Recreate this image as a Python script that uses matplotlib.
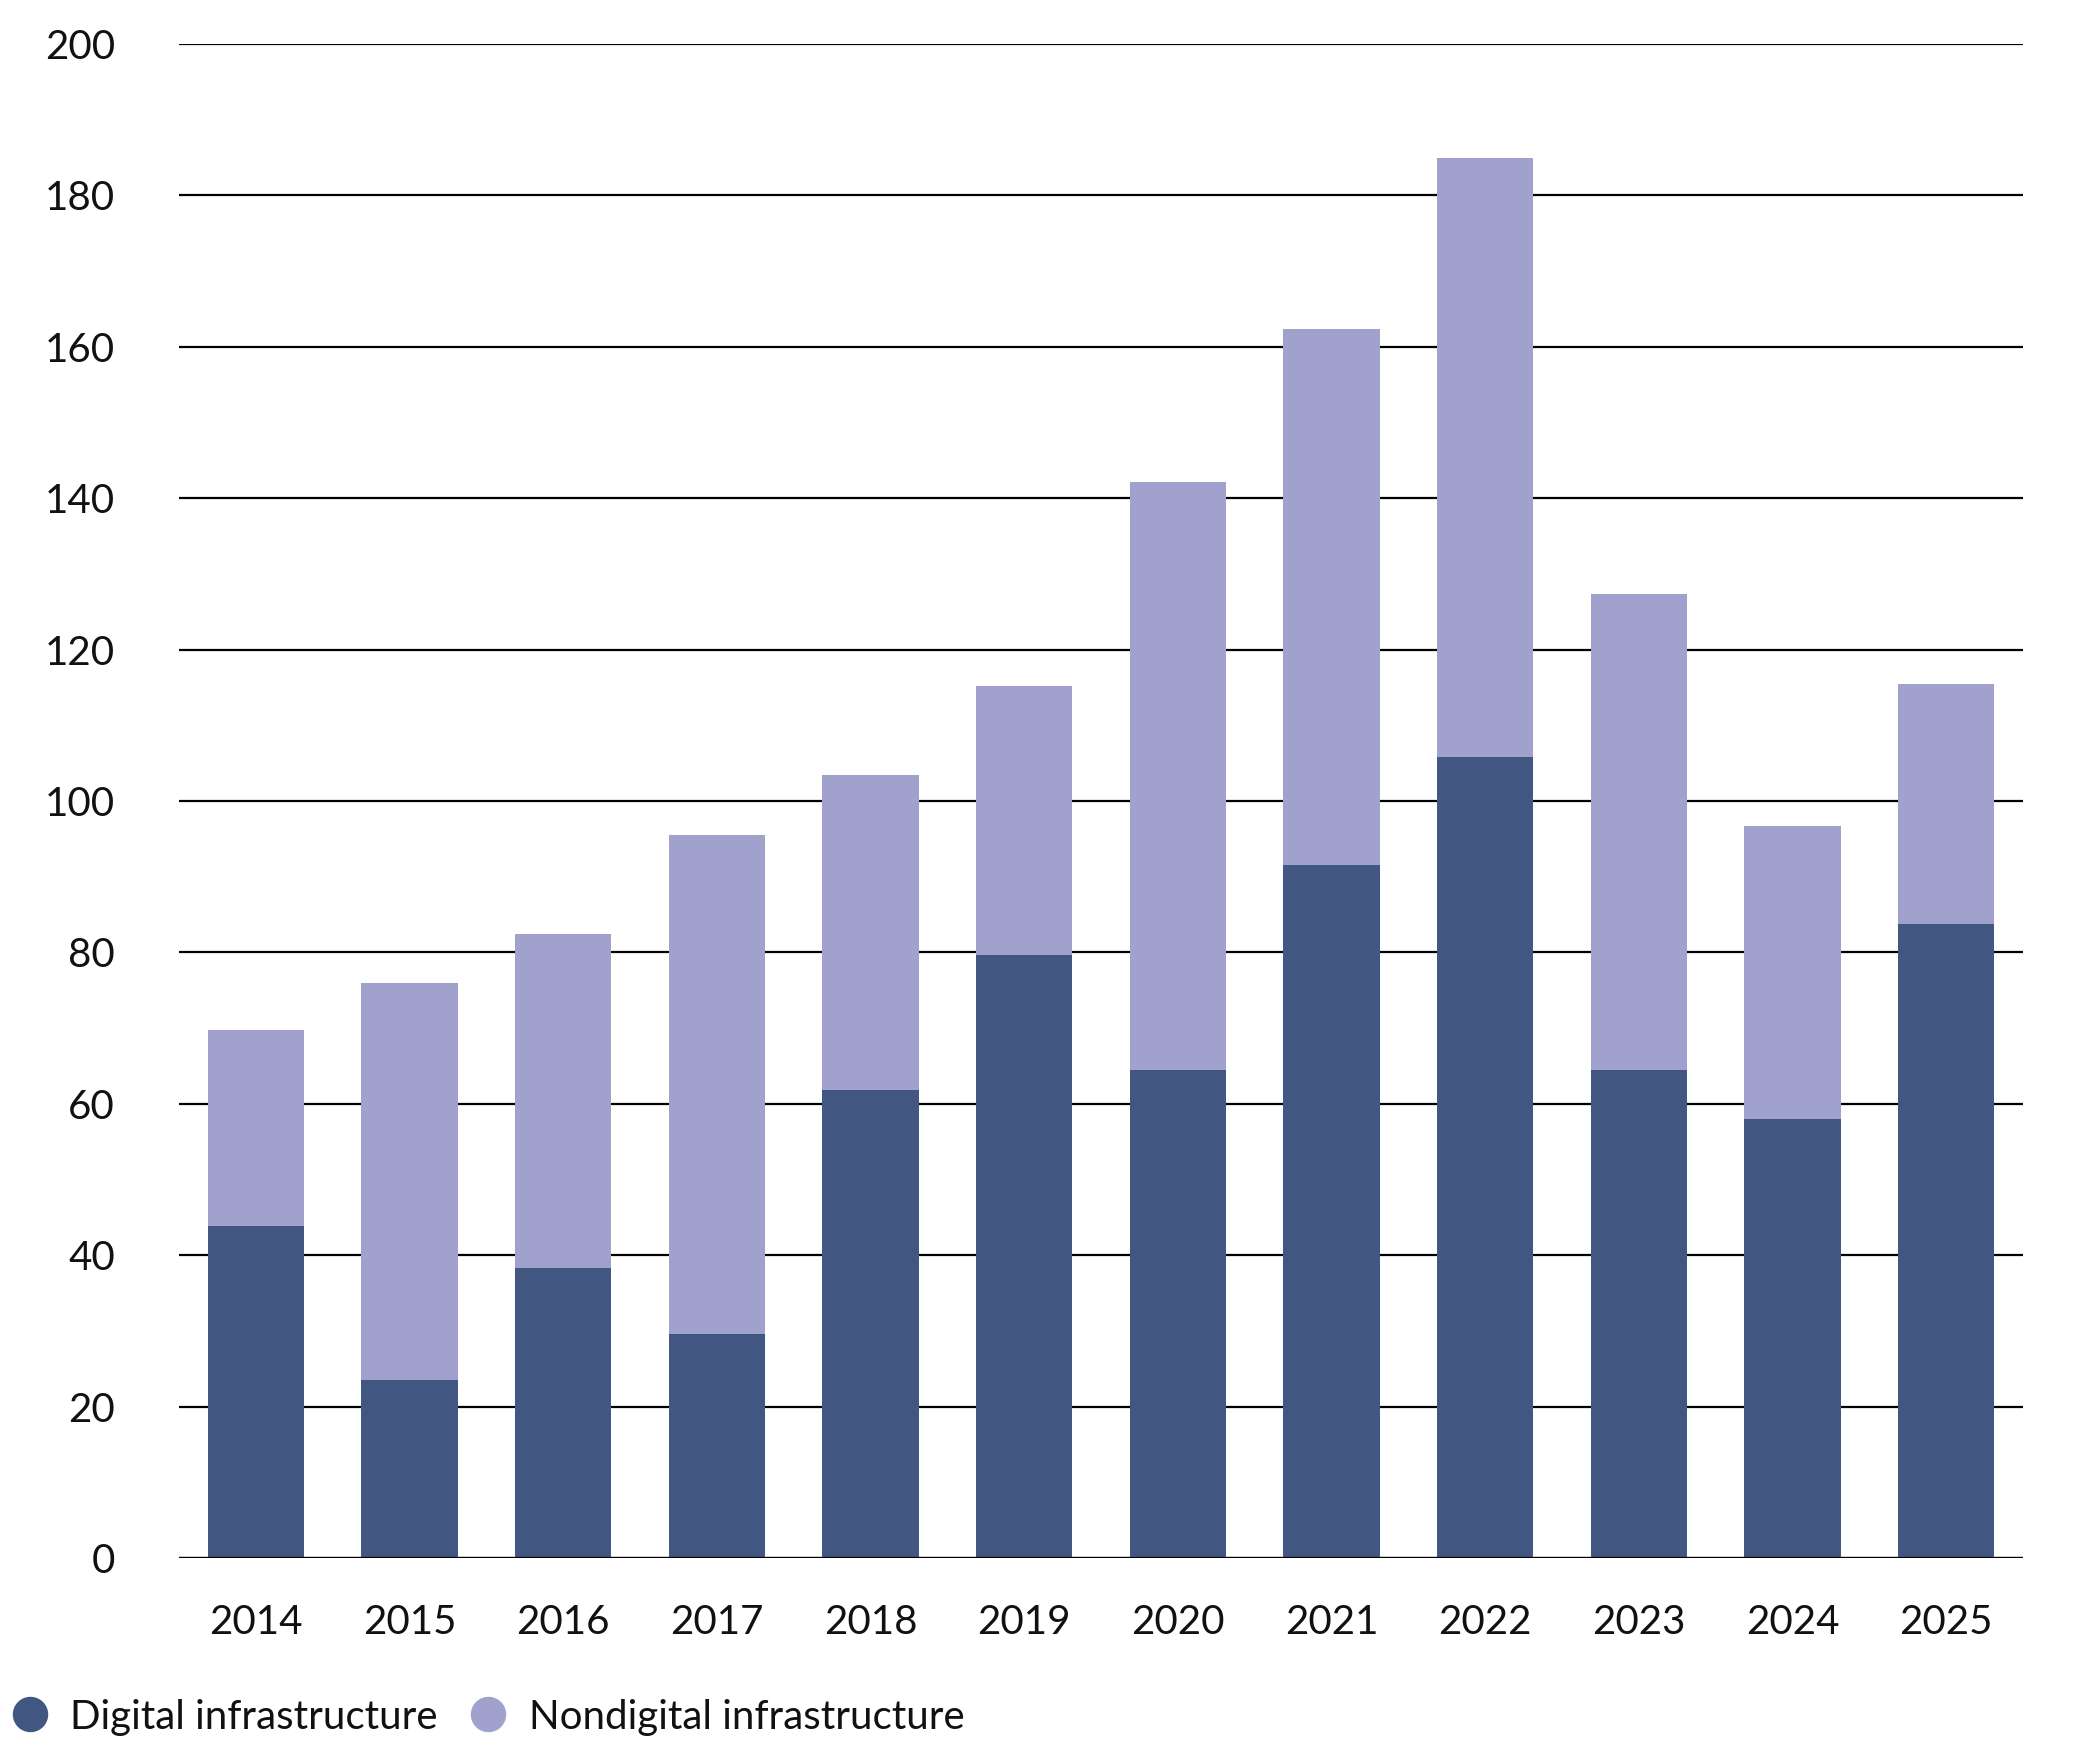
import numpy as np
import matplotlib.pyplot as plt
from matplotlib.lines import Line2D

years = ["2014", "2015", "2016", "2017", "2018", "2019",
         "2020", "2021", "2022", "2023", "2024", "2025"]
digital = [43.9, 23.5, 38.3, 29.6, 61.8, 79.7, 64.5, 91.5, 105.8, 64.5, 58.0, 83.8]
total = [69.7, 75.9, 82.4, 95.5, 103.4, 115.2, 142.2, 162.3, 184.9, 127.3, 96.7, 115.5]
nondigital = [t - d for t, d in zip(total, digital)]

dark = "#425682"
light = "#A0A1CD"

plt.rcParams['font.family'] = ['Lato', 'DejaVu Sans']

W, H = 2082, 1760
fig = plt.figure(figsize=(W / 100, H / 100), dpi=100)
# axes box in pixels: left 179, right 2023, top 44, bottom 1558
ax = fig.add_axes([179 / W, 1 - 1558 / H, (2023 - 179) / W, (1558 - 44) / H])

x = np.arange(len(years))
ax.bar(x, digital, width=0.625, color=dark, zorder=3)
ax.bar(x, nondigital, width=0.625, bottom=digital, color=light, zorder=3)

ax.set_xlim(-0.5, len(years) - 0.5)
ax.set_ylim(0, 200)
ax.set_yticks(np.arange(0, 201, 20))
ax.yaxis.grid(True, color="black", linewidth=1.6, zorder=0)
ax.axhline(0, color="black", linewidth=2.3, zorder=4)
for s in ax.spines.values():
    s.set_visible(False)
ax.tick_params(axis="both", length=0, labelsize=29, colors="#111111")
ax.tick_params(axis="y", pad=46)
ax.tick_params(axis="x", pad=33)
ax.set_xticks(x)
ax.set_xticklabels(years)

handles = [Line2D([], [], marker="o", linestyle="", markersize=24.5, color=dark),
           Line2D([], [], marker="o", linestyle="", markersize=24.5, color=light)]
fig.legend(handles, ["Digital infrastructure", "Nondigital infrastructure"],
           loc="center left", bbox_to_anchor=(10 / W, 1 - 1717 / H), ncol=2,
           frameon=False, fontsize=29, handletextpad=0.5, columnspacing=0.75,
           borderaxespad=0, borderpad=0, handlelength=1.0, labelcolor="#111111")

fig.savefig("out.png", dpi=100)
